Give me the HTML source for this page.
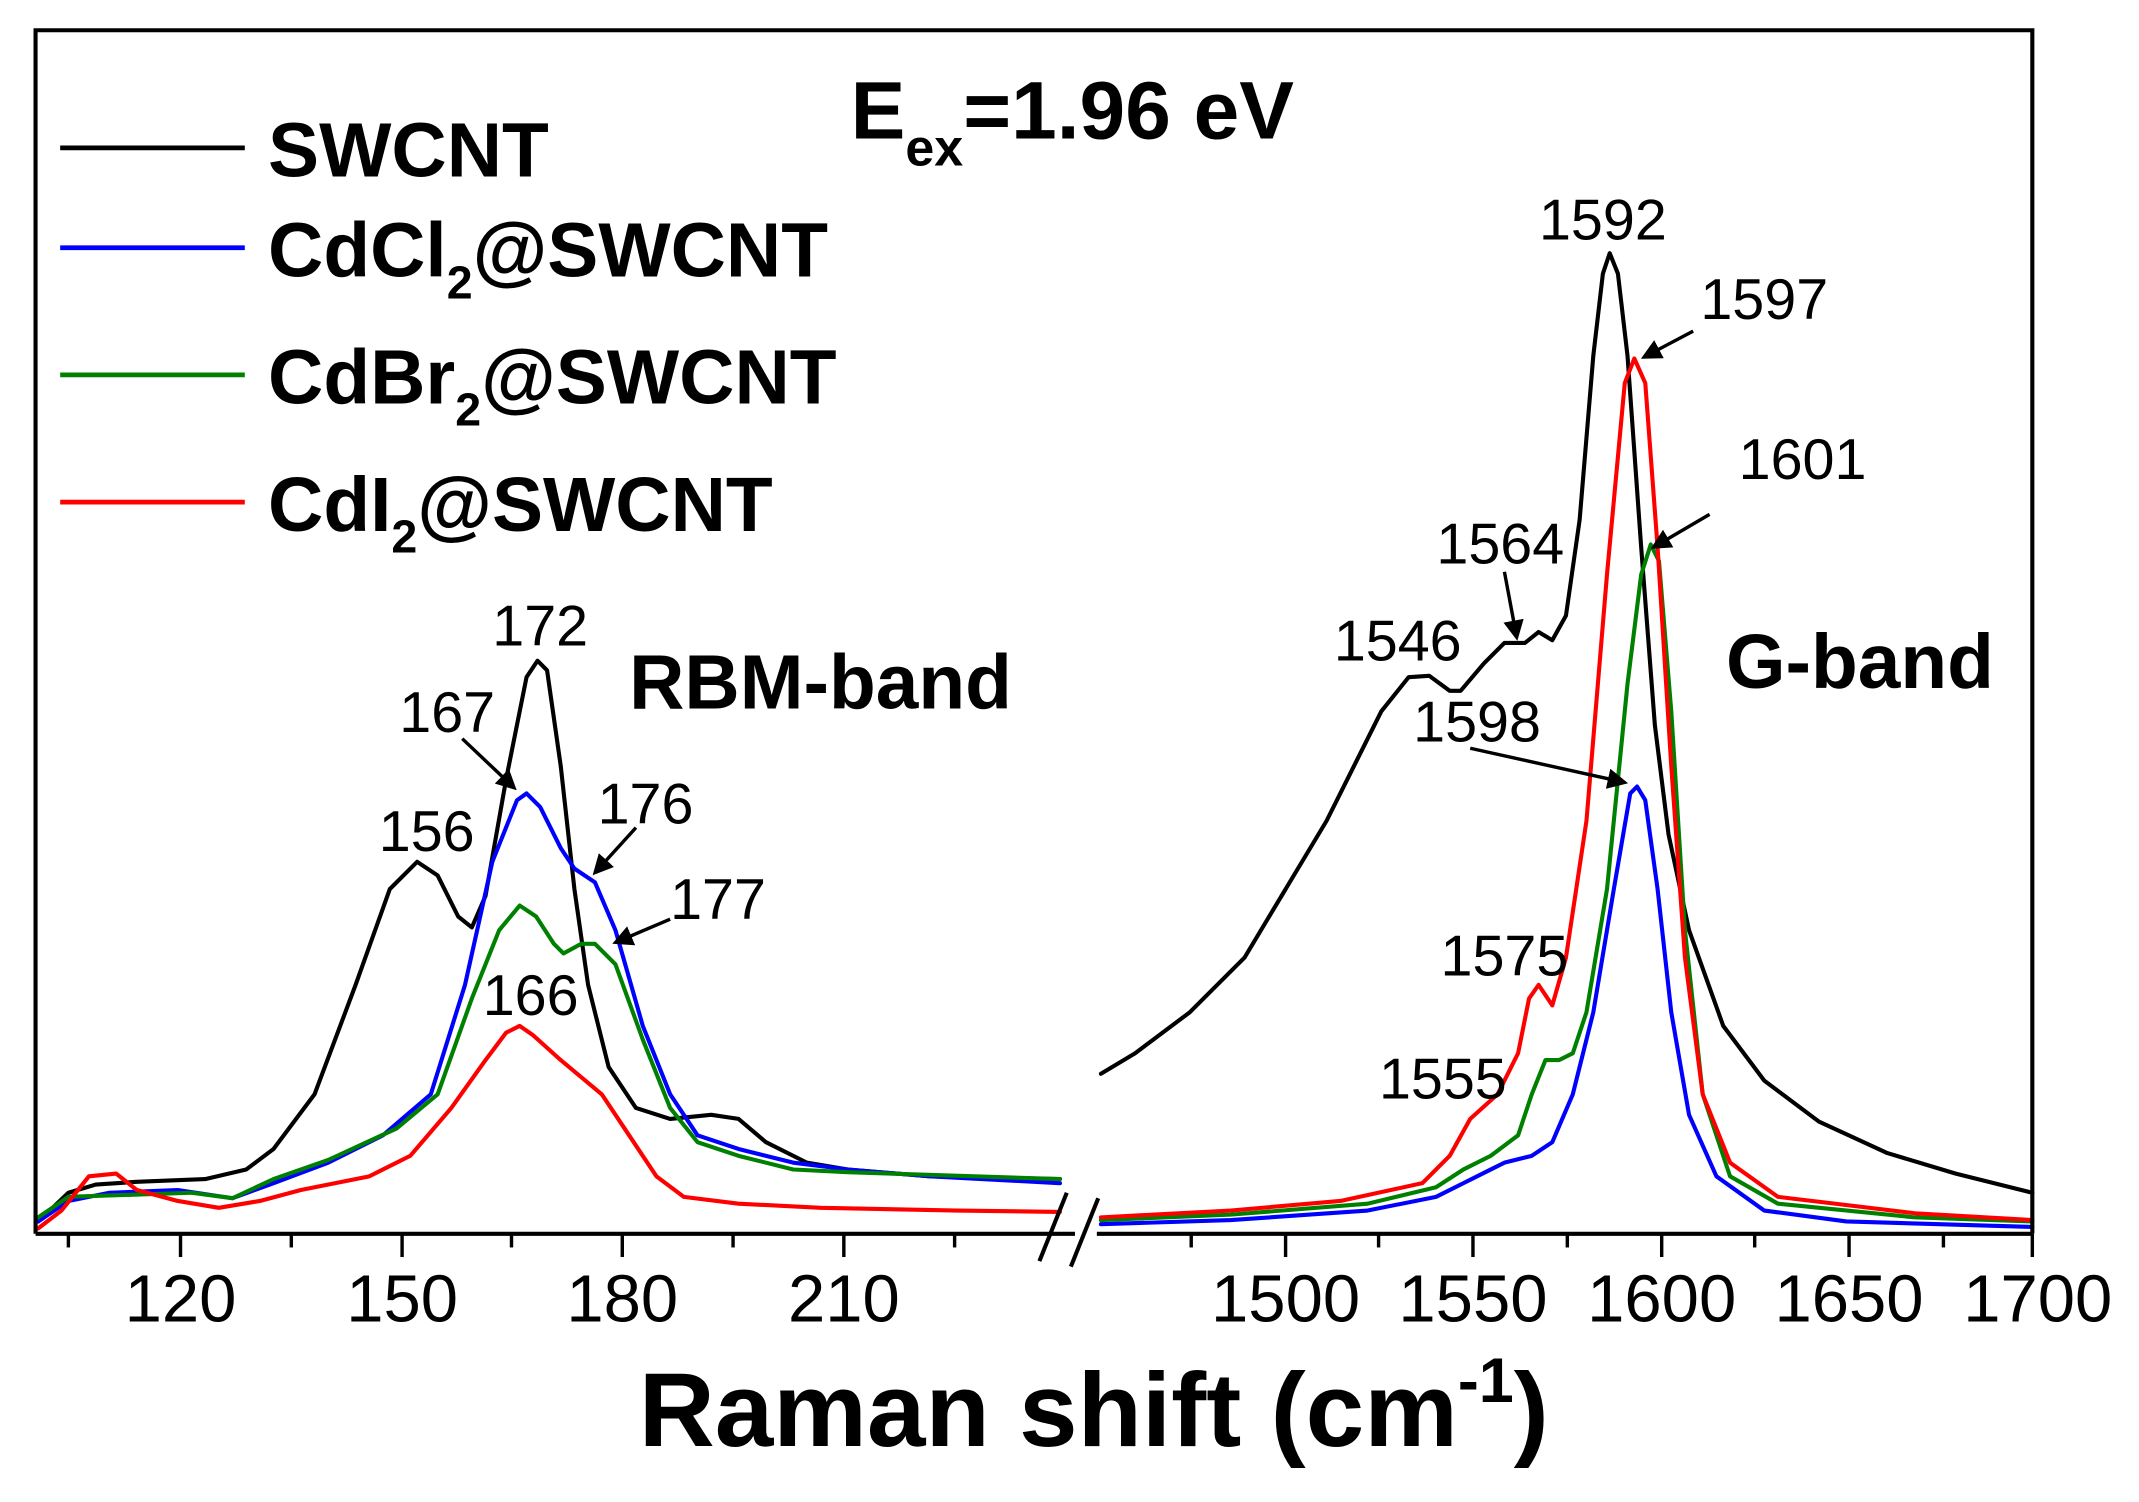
<!DOCTYPE html>
<html><head><meta charset="utf-8"><style>html,body{margin:0;padding:0;background:#fff}svg{display:block}</style></head>
<body>
<svg width="2139" height="1502" viewBox="0 0 1564 1098" xmlns="http://www.w3.org/2000/svg" font-family="Liberation Sans, Arial, sans-serif">
<rect width="1564" height="1098" fill="#fff"/>
<g fill="none" stroke-linejoin="round" stroke-linecap="round" stroke-width="3">
<polyline stroke="#000" points="28,893 50,872 70,866 100,864 150,862 180,855 200,840 230,800 260,720 285,650 305,630 320,640 335,670 345,678 355,655 370,570 385,495 393,483 400,490 410,560 420,650 430,720 445,780 465,810 490,818 520,815 540,818 560,835 590,850 620,855 680,860 775,862"/>
<polyline stroke="#0000ff" points="28,893 50,878 80,872 130,870 170,876 200,865 240,850 280,830 315,800 340,720 360,630 378,585 385,580 395,590 410,620 420,635 435,645 450,680 470,750 490,800 510,830 540,840 580,850 620,855 680,860 775,865"/>
<polyline stroke="#008000" points="28,890 50,875 80,874 140,872 170,876 200,862 240,848 290,825 320,800 345,730 365,680 380,662 392,670 405,690 412,697 425,690 435,690 450,705 470,760 490,810 510,835 540,845 580,855 620,857 775,862"/>
<polyline stroke="#ff0000" points="28,898 45,885 65,860 85,858 100,870 130,878 160,883 190,878 220,870 270,860 300,845 330,810 355,775 370,755 380,750 390,757 410,775 440,800 460,830 480,860 500,875 540,880 600,883 700,885 775,886"/>
<polyline stroke="#000" points="805,785 830,770 870,740 910,700 940,650 970,600 990,560 1010,520 1030,495 1045,494 1060,505 1068,505 1085,485 1100,470 1115,470 1125,462 1135,468 1145,450 1155,380 1165,260 1172,200 1177,185 1183,200 1190,260 1200,400 1210,530 1220,610 1235,680 1260,750 1290,790 1330,820 1380,843 1430,858 1486,872"/>
<polyline stroke="#0000ff" points="805,895 900,892 1000,885 1050,875 1070,865 1090,855 1100,850 1120,845 1135,835 1150,800 1165,740 1180,650 1192,580 1197,575 1203,585 1212,650 1222,740 1235,815 1255,860 1290,885 1350,893 1486,897"/>
<polyline stroke="#008000" points="805,892 900,888 1000,880 1050,868 1070,855 1090,845 1110,830 1120,800 1130,775 1140,775 1150,770 1160,740 1175,650 1190,500 1200,420 1207,398 1213,410 1222,520 1232,680 1245,800 1265,860 1300,880 1400,890 1486,893"/>
<polyline stroke="#ff0000" points="805,890 900,885 980,878 1040,865 1060,845 1075,818 1095,800 1110,770 1118,730 1125,720 1135,735 1145,700 1160,600 1175,420 1188,280 1195,262 1203,280 1212,400 1222,560 1232,700 1245,800 1265,850 1300,875 1400,887 1486,892"/>
</g>
<g stroke="#000" stroke-width="3" fill="none">
<polyline points="26,902 26,22 1486,22 1486,902"/>
<line x1="26" y1="902" x2="786" y2="902"/>
<line x1="802" y1="902" x2="1486" y2="902"/>
<line x1="760" y1="922" x2="780" y2="872"/>
<line x1="783" y1="926" x2="803" y2="876"/>
<g stroke-width="2.5">
<line x1="132" y1="902" x2="132" y2="919"/><line x1="294" y1="902" x2="294" y2="919"/><line x1="455" y1="902" x2="455" y2="919"/><line x1="617" y1="902" x2="617" y2="919"/>
<line x1="50" y1="902" x2="50" y2="912"/><line x1="213" y1="902" x2="213" y2="912"/><line x1="374" y1="902" x2="374" y2="912"/><line x1="536" y1="902" x2="536" y2="912"/><line x1="698" y1="902" x2="698" y2="912"/>
<line x1="940" y1="902" x2="940" y2="919"/><line x1="1077" y1="902" x2="1077" y2="919"/><line x1="1215" y1="902" x2="1215" y2="919"/><line x1="1352" y1="902" x2="1352" y2="919"/><line x1="1486" y1="902" x2="1486" y2="919"/>
<line x1="871" y1="902" x2="871" y2="912"/><line x1="1008" y1="902" x2="1008" y2="912"/><line x1="1146" y1="902" x2="1146" y2="912"/><line x1="1283" y1="902" x2="1283" y2="912"/><line x1="1421" y1="902" x2="1421" y2="912"/>
</g>
</g>
<g font-size="49" text-anchor="middle" fill="#000">
<text x="132" y="966">120</text><text x="294" y="966">150</text><text x="455" y="966">180</text><text x="617" y="966">210</text>
<text x="940" y="966">1500</text><text x="1077" y="966">1550</text><text x="1215" y="966">1600</text><text x="1352" y="966">1650</text><text x="1490" y="966">1700</text>
</g>
<text x="467" y="1057" font-size="77" font-weight="bold">Raman shift (cm<tspan font-size="46" dy="-32">-1</tspan><tspan dy="32">)</tspan></text>
<g stroke-width="3.5">
<line x1="44" y1="108" x2="179" y2="108" stroke="#000"/>
<line x1="44" y1="181" x2="179" y2="181" stroke="#0000ff"/>
<line x1="44" y1="274" x2="179" y2="274" stroke="#008000"/>
<line x1="44" y1="367" x2="179" y2="367" stroke="#ff0000"/>
</g>
<g font-size="56" font-weight="bold" fill="#000">
<text x="196" y="129">SWCNT</text>
<text x="196" y="202">CdCl<tspan font-size="34" dy="16">2</tspan><tspan dy="-16">@SWCNT</tspan></text>
<text x="196" y="295">CdBr<tspan font-size="34" dy="16">2</tspan><tspan dy="-16">@SWCNT</tspan></text>
<text x="196" y="388">CdI<tspan font-size="34" dy="16">2</tspan><tspan dy="-16">@SWCNT</tspan></text>
<text x="622" y="101" font-size="60">E<tspan font-size="38" dy="20">ex</tspan><tspan dy="-20">=1.96 eV</tspan></text>
<text x="460" y="518">RBM-band</text>
<text x="1262" y="503">G-band</text>
</g>
<g font-size="42" text-anchor="middle" fill="#000">
<text x="395" y="472">172</text><text x="327" y="535">167</text><text x="312" y="622">156</text>
<text x="472" y="602">176</text><text x="525" y="672">177</text><text x="388" y="742">166</text>
<text x="1172" y="175">1592</text><text x="1290" y="233">1597</text><text x="1318" y="350">1601</text>
<text x="1097" y="412">1564</text><text x="1022" y="483">1546</text><text x="1080" y="542">1598</text>
<text x="1100" y="713">1575</text><text x="1055" y="803">1555</text>
</g>
<defs><marker id="ah" markerWidth="6" markerHeight="6" refX="5" refY="3" orient="auto"><path d="M0,0 L6,3 L0,6 z" fill="#000"/></marker></defs>
<g stroke="#000" stroke-width="2.5" marker-end="url(#ah)">
<line x1="338" y1="540" x2="376" y2="576"/>
<line x1="465" y1="605" x2="435" y2="638"/>
<line x1="490" y1="672" x2="450" y2="689"/>
<line x1="1238" y1="242" x2="1202" y2="261"/>
<line x1="1250" y1="376" x2="1209" y2="400"/>
<line x1="1100" y1="418" x2="1109" y2="466"/>
<line x1="1075" y1="547" x2="1188" y2="572"/>
</g>
</svg>
</body></html>
